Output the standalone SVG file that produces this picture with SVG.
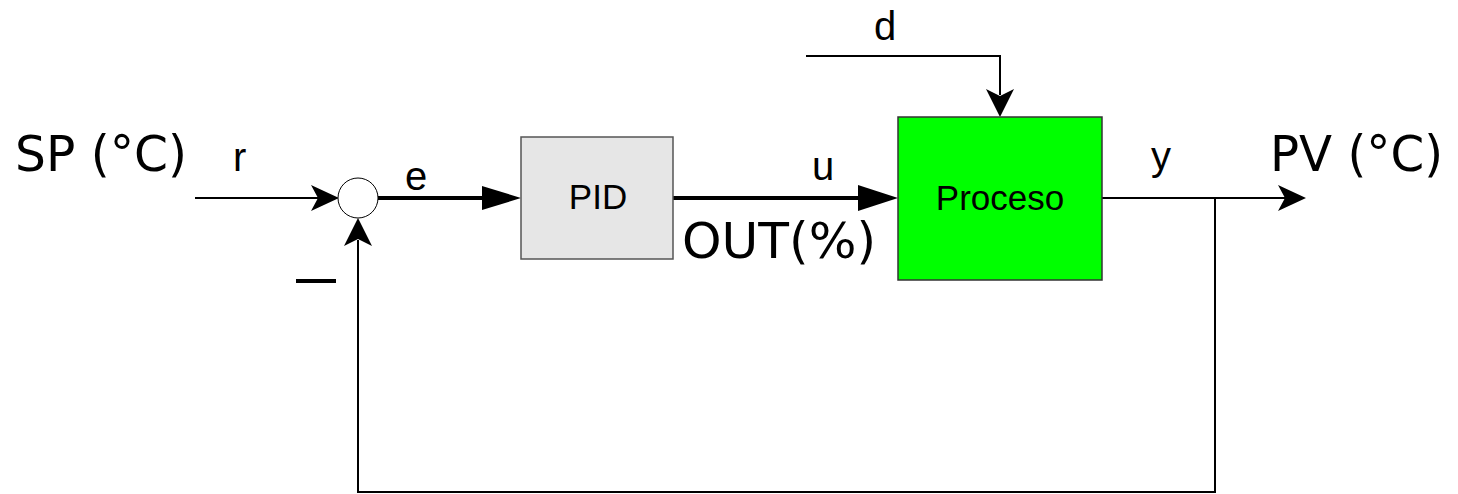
<svg xmlns="http://www.w3.org/2000/svg" width="1458" height="494" viewBox="0 0 1458 494">
<style>
.ln{fill:none;stroke:#000;stroke-width:2}
.thk{fill:none;stroke:#000;stroke-width:4}
.ah{fill:#000}
.big{font-family:"DejaVu Sans",sans-serif;font-size:49px;fill:#000}
.lbl{font-family:"Liberation Sans",Arial,sans-serif;font-size:40px;fill:#000}
.box{font-family:"Liberation Sans",Arial,sans-serif;font-size:35px;fill:#000;text-anchor:middle}
</style>
<rect width="1458" height="494" fill="#fff"/>
<g id="connectors">
  <line class="ln" x1="195" y1="198" x2="320" y2="198"/>
  <path class="ah" d="M339,198 L311,185 L318,198 L311,211 Z"/>
  <line class="thk" x1="378" y1="198" x2="490" y2="198"/>
  <path class="ah" d="M521,198 L482,186 L482,210 Z"/>
  <line class="thk" x1="673" y1="198" x2="866" y2="198"/>
  <path class="ah" d="M898,198 L858,185 L858,211 Z"/>
  <polyline class="ln" points="806,56 1000,56 1000,95"/>
  <path class="ah" d="M1000,117 L986,89 L1000,96 L1014,89 Z"/>
  <line class="ln" x1="1102" y1="198" x2="1285" y2="198"/>
  <path class="ah" d="M1306,198 L1278,185 L1285,198 L1278,211 Z"/>
  <polyline class="ln" points="1215,198 1215,492 358,492 358,240"/>
  <path class="ah" d="M358,218 L344,246 L358,239 L372,246 Z"/>
  <line class="thk" x1="296" y1="281" x2="336" y2="281"/>
</g>
<g id="sum">
  <circle cx="358" cy="198" r="20" fill="#fff" stroke="#000" stroke-width="1"/>
</g>
<g id="pid">
  <rect x="521" y="137" width="152" height="122" fill="#e6e6e6" stroke="#555" stroke-width="1.5"/>
  <text class="box" x="598" y="209">PID</text>
</g>
<g id="proceso">
  <rect x="898" y="117" width="204" height="163" fill="#00ff00" stroke="#333" stroke-width="1.5"/>
  <text class="box" x="1000" y="210">Proceso</text>
</g>
<g id="labels">
  <text class="big" x="15" y="171" textLength="172" lengthAdjust="spacingAndGlyphs">SP (°C)</text>
  <text class="big" x="1270" y="171" textLength="173" lengthAdjust="spacingAndGlyphs">PV (°C)</text>
  <text class="big" x="682" y="258" textLength="194" lengthAdjust="spacingAndGlyphs">OUT(%)</text>
  <text class="lbl" x="233" y="171">r</text>
  <text class="lbl" x="405" y="190">e</text>
  <text class="lbl" x="812" y="180">u</text>
  <text class="lbl" x="874" y="40">d</text>
  <text class="lbl" x="1151" y="170">y</text>
</g>
</svg>
